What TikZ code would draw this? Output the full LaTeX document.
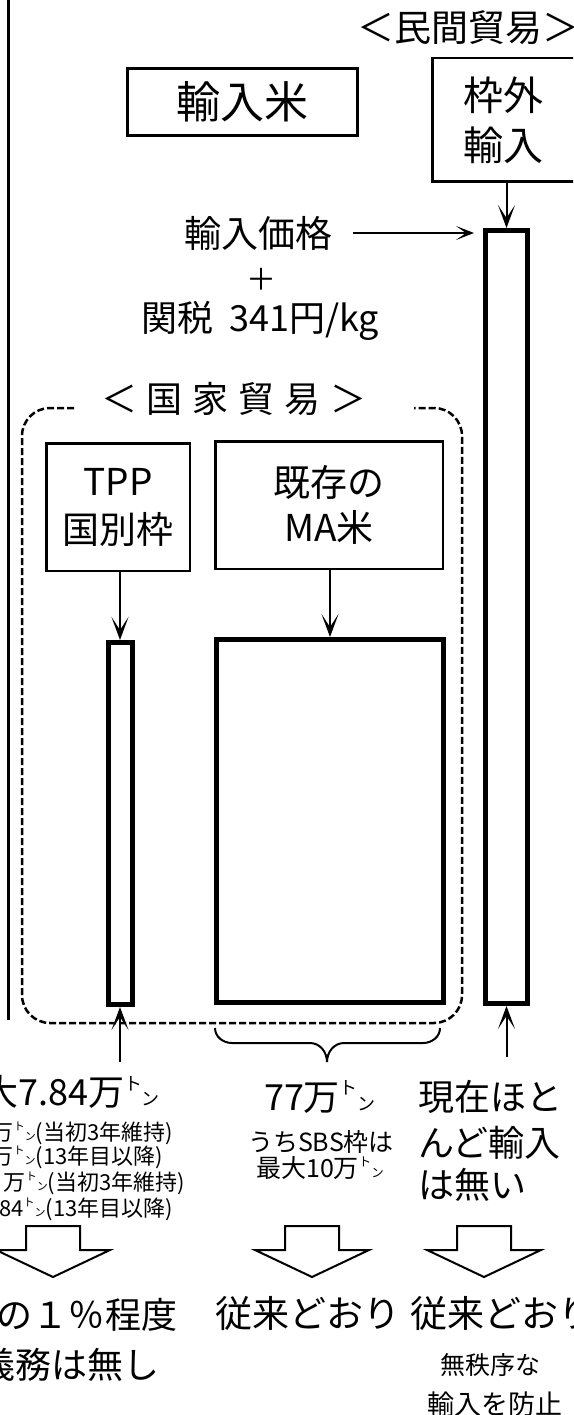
\documentclass[tikz,border=0pt]{standalone}
\usepackage{fontspec}
\setmainfont{Noto Sans CJK JP}
\usepackage{graphicx}
\usetikzlibrary{arrows.meta}
\newcommand\tonmark{\raisebox{0.42em}{\scalebox{0.5}{ト}}\scalebox{0.5}{ン}}
\newcommand\fsz[1]{\fontsize{#1}{#1}\selectfont}
\begin{document}
\begin{tikzpicture}[x=1pt,y=-1pt,
  txt/.style={inner sep=0pt,outer sep=0pt},
  box/.style={draw,line width=2.5pt,inner sep=0pt,align=center},
  bar/.style={draw,line width=5pt,inner sep=0pt},
  arr/.style={-{Stealth[length=23pt,width=17pt,inset=13pt]},line width=2pt},
  arrsm/.style={-{Stealth[length=18pt,width=14pt,inset=10pt]},line width=2pt},
  dashbox/.style={dash pattern=on 7pt off 3pt,line width=2.5pt,rounded corners=28pt},
  blk/.pic={\draw[line width=2pt,line join=miter] (-27,0) -- (27,0) -- (27,24) -- (57,24) -- (0,51) -- (-57,24) -- (-27,24) -- cycle;}]
\useasboundingbox (0,0) rectangle (573,1415);
\clip (0,0) rectangle (573,1415);
\fill[white] (0,0) rectangle (573,1415);

% left separator line
\draw[line width=3pt] (8,-2) -- (8,1020);

% top part
\node[txt,anchor=west] (minkan) at (357,28) {\fsz{37}＜民間貿易＞};
\node[box,line width=3pt,minimum width=230pt,minimum height=67pt,font=\fsz{44}] (imbox) at (242.5,102) {輸入米};
\node[box,minimum width=142.5pt,minimum height=123.5pt,font=\fontsize{40}{50}\selectfont] (wakugai) at (503.5,120) {枠外\\輸入};

\node[bar,minimum width=42pt,minimum height=773pt] (rbar) at (506.5,617) {};
\draw[arr] (wakugai.south -| rbar.north) -- (rbar.north);

\node[txt] (price) at (258.5,233) {\fsz{37}輸入価格};
\draw[arrsm] ([xshift=20pt]price.east) -- ([xshift=-9pt]rbar.west |- price.east);
\node[txt] (plus) at (261,279) {\fsz{30}＋};
\node[txt] (tariff) at (260,321) {\fsz{36}関税\hspace{16pt}341円/kg};

% state trade
\node[txt] (kokka) at (234,399) {\fsz{36}＜\hspace{10pt}国\hspace{10pt}家\hspace{10pt}貿\hspace{10pt}易\hspace{10pt}＞};
\draw[dashbox] (74,408) -- (22,408) -- (22,1023) -- (462,1023) -- (462,408) -- (414,408);

\node[box,minimum width=143.5pt,minimum height=127.5pt,font=\fontsize{37}{48}\selectfont] (tppbox) at (118,507) {TPP\\国別枠};
\node[box,minimum width=227.5pt,minimum height=127.5pt,font=\fontsize{37}{45}\selectfont] (mabox) at (329,505) {既存の\\MA米};

\node[bar,minimum width=24pt,minimum height=362pt] (tppbar) at (120,823.5) {};
\node[bar,minimum width=227pt,minimum height=363pt] (mabar) at (330,821) {};
\draw[arr] (tppbox.south -| tppbar.north) -- (tppbar.north);
\draw[arr] (mabox.south -| mabar.north) -- (mabar.north);

% brace under MA
\draw[line width=2pt] (215,1028) to[out=-90,in=180] (232,1043) -- (310,1043) to[out=0,in=90] (327,1062) to[out=90,in=180] (344,1043) -- (423,1043) to[out=0,in=-90] (440,1028);

% up arrows
\coordinate (tppfoot) at (120,1062);
\coordinate (rfoot) at (506.5,1057);
\draw[arr] (tppfoot) -- (tppbar.south);
\draw[arr] (rfoot) -- (rbar.south);

% lower texts, left column
\node[txt,anchor=east] (l1) at (160,1092) {\fsz{36}大7.84万\tonmark};
\node[txt,anchor=east] (l2) at (173,1133) {\fsz{22}万\tonmark(当初3年維持)};
\node[txt,anchor=east] (l3) at (163,1157) {\fsz{22}万\tonmark(13年目以降)};
\node[txt,anchor=east] (l4) at (185,1183) {\fsz{22}万\tonmark(当初3年維持)};
\node[txt,anchor=east] (l5) at (173,1209) {\fsz{22}84\tonmark(13年目以降)};

% middle column
\node[txt] (m1) at (320,1097) {\fsz{36}77万\tonmark};
\node[txt] (m2) at (321,1142) {\fsz{25}うちSBS枠は};
\node[txt] (m3) at (320,1168) {\fsz{25}最大10万\tonmark};

% right column
\node[txt,anchor=west] (r1) at (418,1097) {\fsz{36}現在ほと};
\node[txt,anchor=west] (r2) at (418,1143) {\fsz{36}んど輸入};
\node[txt,anchor=west] (r3) at (418,1185) {\fsz{36}は無い};

% block arrows
\pic at (53,1226) {blk};
\pic at (312,1226) {blk};
\pic at (484,1226) {blk};

% results
\node[txt,anchor=east] (b1) at (177,1315) {\fsz{36}の１％程度};
\node[txt,anchor=east] (b2) at (160,1365) {\fsz{36}義務は無し};
\node[txt] (b3) at (307.5,1313) {\fsz{37}従来どおり};
\node[txt,anchor=west] (b4) at (410,1313) {\fsz{37}従来どおり};
\node[txt] (b5) at (490,1365) {\fsz{25}無秩序な};
\node[txt] (b6) at (495,1404) {\fsz{27}輸入を防止};
\end{tikzpicture}
\end{document}
